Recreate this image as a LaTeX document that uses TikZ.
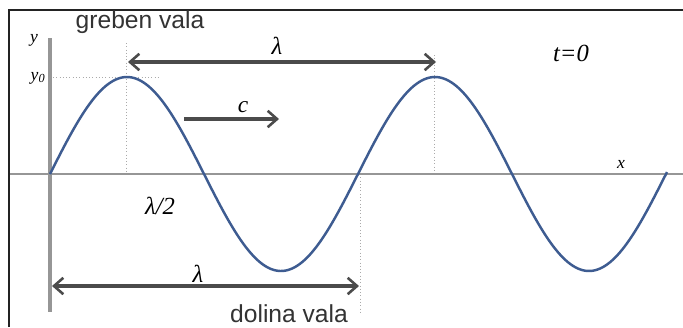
\documentclass[tikz,border=0pt]{standalone}
\usepackage{fontspec}
\setmainfont{Liberation Serif}
\newfontfamily\labelsans{Liberation Sans}
\usetikzlibrary{arrows.meta}
\definecolor{wave}{RGB}{62,92,145}
\definecolor{axisgray}{RGB}{150,150,150}
\definecolor{arrowgray}{RGB}{75,75,75}
\definecolor{dotgray}{RGB}{170,170,170}
\definecolor{framec}{RGB}{35,35,35}
\tikzset{
  wavecurve/.style={draw=wave,line width=2.1pt},
  dimarrow/.style={draw=arrowgray,line width=3pt,{Straight Barb[length=8pt,width=14pt,line width=2.2pt]}-{Straight Barb[length=8pt,width=14pt,line width=2.2pt]}},
  velarrow/.style={draw=arrowgray,line width=3pt,-{Straight Barb[length=8pt,width=14pt,line width=2.2pt]}},
  guide/.style={draw=dotgray,line width=0.8pt,dotted},
  bigsans/.style={font=\labelsans\fontsize{21}{24}\selectfont,text=black!80,inner sep=0pt},
  mathlbl/.style={font=\itshape\fontsize{21}{24}\selectfont,inner sep=0pt},
  smalllbl/.style={font=\itshape\fontsize{15}{17}\selectfont,inner sep=0pt}
}
\begin{document}
\begin{tikzpicture}[x=0.03cm,y=-0.03cm]
\useasboundingbox (0,0) rectangle (683,327);
\fill[white] (0,0) rectangle (683,327);
% frame
\draw[framec,line width=1.6pt] (9,327) -- (9,10) -- (683,10);
% guides
\coordinate (pk1top) at (126,43);
\coordinate (pk1bot) at (126,173);
\coordinate (y0l) at (53,77);
\coordinate (y0r) at (160,77);
\coordinate (pk2top) at (434,55);
\coordinate (pk2bot) at (434,174);
\coordinate (trtop) at (360,174);
\coordinate (trbot) at (360,313);
\draw[guide] (pk1top) -- (pk1bot);
\draw[guide] (y0l) -- (y0r);
\draw[guide] (pk2top) -- (pk2bot);
\draw[guide] (trtop) -- (trbot);
% axes
\coordinate (xl) at (10,174);
\coordinate (xr) at (683,174);
\coordinate (yt) at (50,38);
\coordinate (yb) at (50,312);
\draw[axisgray,line width=1.5pt] (xl) -- (xr);
\draw[axisgray,line width=2.6pt] (yt) -- (yb);
% wave
\draw[wavecurve] plot[domain=50:667,samples=250,smooth] (\x,{174-97*sin(1.168831*(\x-50))});
% dimension arrows
\coordinate (la1) at (128,62);
\coordinate (la2) at (436,62);
\draw[dimarrow] (la1) -- (la2);
\coordinate (lb1) at (52,286);
\coordinate (lb2) at (359,286);
\draw[dimarrow] (lb1) -- (lb2);
\coordinate (c1) at (184,119);
\coordinate (c2) at (279,119);
\draw[velarrow] (c1) -- (c2);
% labels
\node[bigsans] (greben) at (140,22) {greben vala};
\node[bigsans] (dolina) at (289,314) {dolina vala};
\node[mathlbl] (lamtop) at (277,46) {λ};
\node[mathlbl] (lambot) at (198,274) {λ};
\node[mathlbl] (lamhalf) at (160,206) {λ/2};
\node[mathlbl,font=\itshape\fontsize{20}{24}\selectfont] (clbl) at (243,107) {c};
\node[mathlbl] (tlbl) at (571,53) {t=0};
\node[smalllbl] (ylbl) at (34,40) {y};
\node[smalllbl] (y0lbl) at (38,78) {y\textsubscript{0}};
\node[smalllbl] (xlbl) at (621,164) {x};
\end{tikzpicture}
\end{document}
